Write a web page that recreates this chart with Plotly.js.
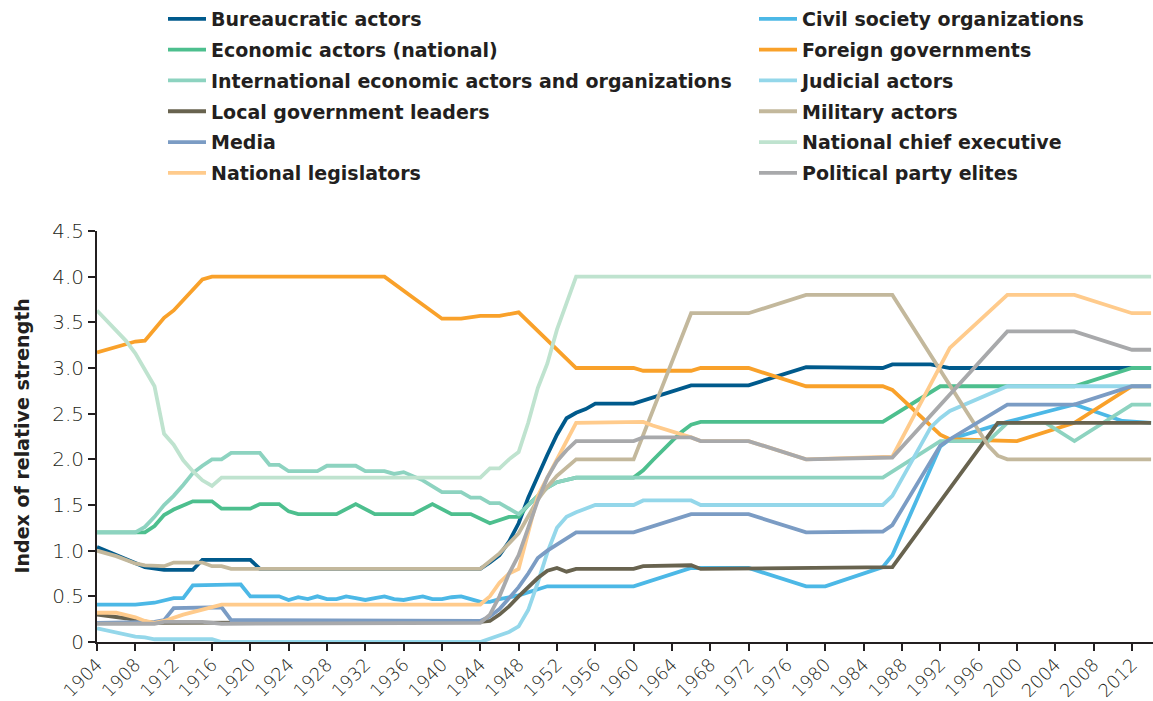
<!DOCTYPE html>
<html>
<head>
<meta charset="utf-8">
<script src="https://cdn.plot.ly/plotly-3.0.1.min.js"></script>
<style>
  html, body { margin: 0; padding: 0; background: #ffffff; }
  #chart { width: 1153px; height: 701px; }
</style>
</head>
<body>
<div id="chart"></div>
<script>
// ---------- Data ----------
const seriesNames = [
  "Bureaucratic actors", "Civil society organizations",
  "Economic actors (national)", "Foreign governments",
  "International economic actors and organizations", "Judicial actors",
  "Local government leaders", "Military actors",
  "Media", "National chief executive",
  "National legislators", "Political party elites"
];
const yAxisTitle = "Index of relative strength";

const bureaucraticYears = [1904,1906,1908,1909,1911,1914,1915,1920,1921,1944,1945,1946,1947,1948,1949,1950,1951,1952,1953,1954,1955,1956,1960,1966,1972,1978,1986,1987,1991,1993,2014];
const bureaucraticValues = [1.04,0.95,0.86,0.82,0.79,0.79,0.9,0.9,0.8,0.8,0.87,0.95,1.1,1.3,1.58,1.82,2.05,2.27,2.45,2.51,2.55,2.61,2.61,2.81,2.81,3.01,3.0,3.04,3.04,3.0,3.0];

const civilYears = [1904,1908,1910,1912,1913,1914,1919,1920,1923,1924,1925,1926,1927,1928,1929,1930,1931,1932,1933,1934,1935,1936,1937,1938,1939,1940,1941,1942,1943,1944,1945,1946,1948,1951,1960,1966,1972,1978,1980,1986,1987,1992,1993,1999,2006,2011,2014];
const civilValues = [0.41,0.41,0.43,0.48,0.48,0.62,0.63,0.5,0.5,0.46,0.49,0.47,0.5,0.47,0.47,0.5,0.48,0.46,0.48,0.5,0.47,0.46,0.48,0.5,0.47,0.47,0.49,0.5,0.47,0.44,0.44,0.47,0.51,0.61,0.61,0.81,0.81,0.61,0.61,0.82,0.95,2.14,2.22,2.41,2.6,2.42,2.4];

const economicYears = [1904,1909,1910,1911,1912,1913,1914,1916,1917,1920,1921,1923,1924,1925,1929,1931,1933,1937,1939,1941,1943,1945,1947,1948,1949,1950,1951,1952,1954,1960,1961,1962,1963,1964,1965,1966,1967,1986,1992,2006,2012,2014];
const economicValues = [1.2,1.2,1.27,1.39,1.45,1.5,1.54,1.54,1.46,1.46,1.51,1.51,1.43,1.4,1.4,1.51,1.4,1.4,1.51,1.4,1.4,1.3,1.37,1.37,1.5,1.6,1.69,1.75,1.8,1.8,1.88,1.99,2.1,2.2,2.3,2.38,2.41,2.41,2.8,2.8,3.0,3.0];

const foreignYears = [1904,1906,1908,1909,1910,1911,1912,1913,1914,1915,1916,1934,1937,1940,1942,1944,1946,1948,1954,1960,1961,1966,1967,1972,1978,1986,1987,1992,1993,2000,2006,2012,2014];
const foreignValues = [3.17,3.23,3.29,3.3,3.42,3.55,3.63,3.74,3.85,3.97,4.0,4.0,3.77,3.54,3.54,3.57,3.57,3.61,3.0,3.0,2.97,2.97,3.0,3.0,2.8,2.8,2.76,2.27,2.22,2.2,2.4,2.8,2.8];

const internationalYears = [1904,1908,1909,1910,1911,1912,1913,1914,1915,1916,1917,1918,1921,1922,1923,1924,1927,1928,1931,1932,1934,1935,1936,1938,1940,1942,1943,1944,1945,1946,1948,1949,1950,1951,1952,1954,1986,1992,1997,1999,2003,2006,2012,2014];
const internationalValues = [1.2,1.2,1.26,1.37,1.5,1.6,1.72,1.85,1.93,2.0,2.0,2.07,2.07,1.94,1.94,1.87,1.87,1.93,1.93,1.87,1.87,1.84,1.86,1.77,1.64,1.64,1.58,1.58,1.52,1.52,1.4,1.5,1.6,1.69,1.75,1.8,1.8,2.2,2.2,2.4,2.4,2.2,2.6,2.6];

const judicialYears = [1904,1906,1908,1909,1910,1916,1917,1944,1945,1946,1947,1948,1949,1950,1951,1952,1953,1954,1956,1960,1961,1966,1967,1986,1987,1991,1992,1993,1999,2014];
const judicialValues = [0.15,0.1,0.06,0.05,0.03,0.03,0.0,0.0,0.04,0.08,0.11,0.17,0.35,0.65,0.98,1.25,1.37,1.42,1.5,1.5,1.55,1.55,1.5,1.5,1.6,2.35,2.45,2.53,2.8,2.8];

const localYears = [1904,1906,1907,1908,1909,1910,1944,1945,1946,1947,1948,1949,1950,1951,1952,1953,1954,1960,1961,1966,1967,1987,1998,2014];
const localValues = [0.3,0.28,0.26,0.24,0.22,0.21,0.22,0.23,0.3,0.39,0.5,0.6,0.7,0.78,0.81,0.77,0.8,0.8,0.83,0.84,0.8,0.82,2.4,2.4];

const militaryYears = [1904,1906,1908,1909,1911,1912,1915,1916,1917,1918,1944,1946,1948,1950,1951,1952,1954,1960,1966,1972,1978,1987,1997,1998,1999,2014];
const militaryValues = [1.0,0.94,0.86,0.84,0.83,0.87,0.87,0.83,0.83,0.8,0.8,0.97,1.19,1.56,1.7,1.82,2.0,2.0,3.6,3.6,3.8,3.8,2.15,2.04,2.0,2.0];

const mediaYears = [1904,1910,1911,1912,1917,1918,1944,1945,1946,1948,1949,1950,1951,1952,1954,1960,1966,1972,1978,1986,1987,1992,1993,1999,2006,2012,2014];
const mediaValues = [0.21,0.22,0.24,0.37,0.38,0.24,0.23,0.28,0.36,0.6,0.75,0.92,1.0,1.07,1.2,1.2,1.4,1.4,1.2,1.21,1.28,2.15,2.22,2.6,2.6,2.8,2.8];

const executiveYears = [1904,1907,1908,1909,1910,1911,1912,1913,1914,1915,1916,1917,1944,1945,1946,1947,1948,1949,1950,1951,1952,1953,1954,2014];
const executiveValues = [3.63,3.3,3.16,2.98,2.8,2.28,2.16,1.99,1.87,1.77,1.71,1.8,1.8,1.9,1.9,2.0,2.08,2.4,2.78,3.05,3.42,3.71,4.0,4.0];

const legislatorsYears = [1904,1906,1908,1909,1910,1911,1913,1915,1917,1944,1945,1946,1947,1948,1949,1950,1952,1953,1954,1961,1962,1966,1967,1972,1978,1987,1993,1999,2006,2012,2014];
const legislatorsValues = [0.32,0.32,0.27,0.23,0.21,0.23,0.3,0.36,0.41,0.41,0.5,0.65,0.75,0.8,1.2,1.6,2.0,2.2,2.4,2.41,2.37,2.24,2.2,2.2,2.0,2.03,3.22,3.8,3.8,3.6,3.6];

const partyYears = [1904,1910,1911,1915,1917,1944,1945,1946,1947,1948,1949,1950,1951,1952,1953,1954,1960,1961,1966,1967,1972,1978,1987,1999,2006,2009,2012,2014];
const partyValues = [0.2,0.2,0.22,0.22,0.2,0.21,0.3,0.5,0.75,0.95,1.25,1.55,1.8,1.98,2.1,2.2,2.2,2.24,2.24,2.2,2.2,2.0,2.02,3.4,3.4,3.3,3.2,3.2];

const xTickYears = [1904,1908,1912,1916,1920,1924,1928,1932,1936,1940,1944,1948,1952,1956,1960,1964,1968,1972,1976,1980,1984,1988,1992,1996,2000,2004,2008,2012];
const yTickValues = [0,0.5,1,1.5,2,2.5,3,3.5,4,4.5];
const yTickLabels = ["0","0.5","1.0","1.5","2.0","2.5","3.0","3.5","4.0","4.5"];

// ---------- Styling ----------
const seriesColors = ["#005a8c","#4cb8e6","#4dbf8e","#f9a12a","#8dd3c0","#94d7ea",
                      "#68634f","#c3b89c","#7b9cc4","#bfe3cf","#ffcb8c","#a8a9ab"];
const seriesData = [
  [bureaucraticYears, bureaucraticValues],
  [civilYears, civilValues],
  [economicYears, economicValues],
  [foreignYears, foreignValues],
  [internationalYears, internationalValues],
  [judicialYears, judicialValues],
  [localYears, localValues],
  [militaryYears, militaryValues],
  [mediaYears, mediaValues],
  [executiveYears, executiveValues],
  [legislatorsYears, legislatorsValues],
  [partyYears, partyValues]
];

const traces = seriesData.map((d, i) => ({
  type: "scatter",
  mode: "lines",
  x: d[0],
  y: d[1],
  name: seriesNames[i],
  legendgroup: seriesNames[i],
  legend: (i % 2 === 0) ? "legend" : "legend2",
  line: { color: seriesColors[i], width: 3.8 },
  hoverinfo: "x+y+name"
}));

const legendBase = {
  orientation: "v",
  xref: "container", yref: "container",
  xanchor: "left", yanchor: "top",
  y: 1,
  traceorder: "grouped",
  tracegroupgap: 3.1,
  itemwidth: 38,
  bgcolor: "rgba(0,0,0,0)",
  borderwidth: 0,
  font: { family: "DejaVu Sans, sans-serif", size: 19, weight: "bold", color: "#231f20" }
};

const axisColor = "#231f20";
const tickFont = { family: "DejaVu Sans, sans-serif", size: 20, weight: 300, color: "#231f20" };
const xTickFont = { family: "DejaVu Sans, sans-serif", size: 18, weight: 300, color: "#231f20" };

const layout = {
  width: 1153,
  height: 701,
  margin: { l: 97, r: 0, t: 231, b: 59, pad: 0, autoexpand: false },
  paper_bgcolor: "#ffffff",
  plot_bgcolor: "#ffffff",
  showlegend: true,
  legend: Object.assign({}, legendBase, { x: 163 / 1153 }),
  legend2: Object.assign({}, legendBase, { x: 754 / 1153 }),
  xaxis: {
    range: [1904, 2014.2],
    tickmode: "array",
    tickvals: xTickYears,
    ticktext: xTickYears.map(String),
    tickangle: -45,
    ticks: "outside",
    ticklen: 7,
    tickwidth: 2,
    tickcolor: axisColor,
    ticklabelstandoff: -4,
    showline: true,
    linecolor: axisColor,
    linewidth: 2,
    showgrid: false,
    zeroline: false,
    tickfont: xTickFont,
    automargin: false
  },
  yaxis: {
    range: [0, 4.5],
    tickmode: "array",
    tickvals: yTickValues,
    ticktext: yTickLabels,
    ticks: "outside",
    ticklen: 7,
    tickwidth: 2,
    tickcolor: axisColor,
    showline: true,
    linecolor: axisColor,
    linewidth: 2,
    showgrid: false,
    zeroline: false,
    tickfont: tickFont,
    automargin: false
  },
  annotations: [{
    text: yAxisTitle,
    xref: "paper", yref: "paper",
    x: (21 - 97) / 1056, y: 0.5,
    xanchor: "center", yanchor: "middle",
    textangle: -90,
    showarrow: false,
    font: { family: "DejaVu Sans, sans-serif", size: 19, weight: "bold", color: "#231f20" }
  }]
};

Plotly.newPlot("chart", traces, layout, { displayModeBar: false, responsive: false });
</script>
</body>
</html>
